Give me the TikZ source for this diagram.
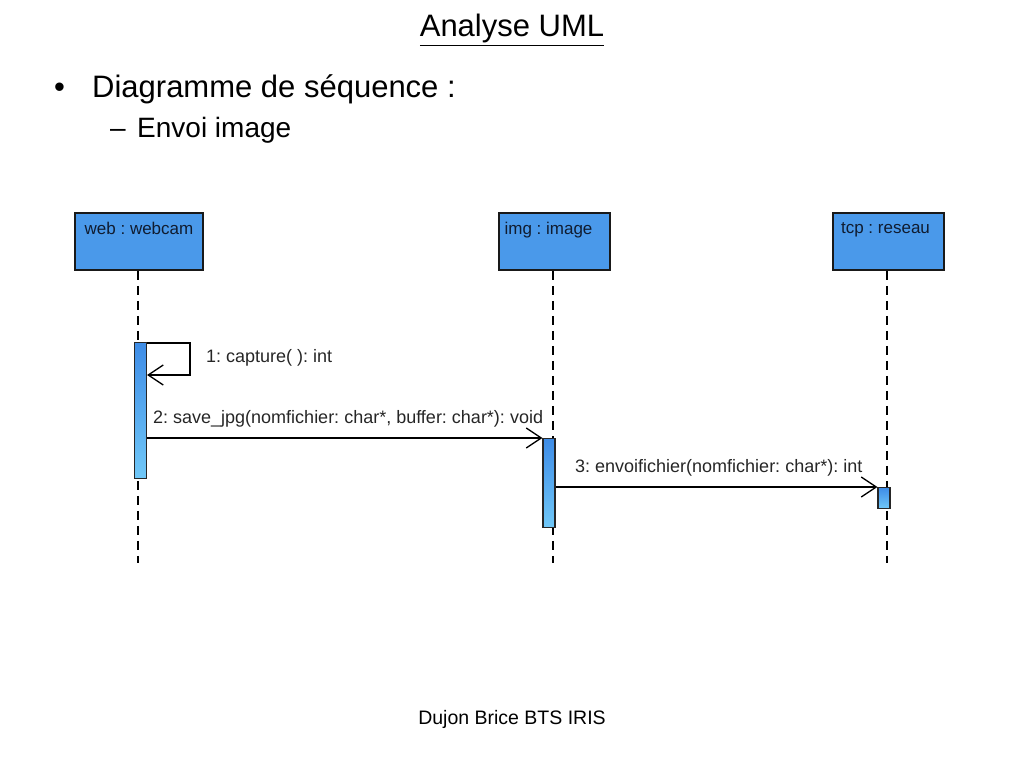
\documentclass[tikz,border=0pt]{standalone}
\usepackage{fontspec}
\setmainfont{Liberation Sans}
\usepackage{xcolor}
\usetikzlibrary{arrows.meta}
\usetikzlibrary{calc}
\frenchspacing

\definecolor{objblue}{RGB}{74,153,234}
\definecolor{acttop}{RGB}{62,140,230}
\definecolor{actbot}{RGB}{112,200,248}
\definecolor{objtext}{RGB}{16,28,48}

\tikzset{
  obj/.style={draw=black!90, line width=1.8pt, fill=objblue, minimum width=#1, minimum height=57, inner sep=0pt},
  objlabel/.style={anchor=north, text=objtext, font=\fontsize{17}{19}\selectfont, inner sep=0pt, yshift=-10},
  act/.style={draw=black!85, line width=1.2pt, top color=acttop, bottom color=actbot, minimum width=12, minimum height=#1, inner sep=0pt, anchor=north},
  lifeline/.style={dashed, dash pattern=on 9pt off 6pt, line width=1.4pt},
  msg/.style={line width=1.3pt, -{Straight Barb[length=15pt,width=20pt,line width=1.3pt]}},
  msglabel/.style={anchor=base west, font=\fontsize{18}{20}\selectfont, text=black!85, inner sep=0pt}
}

\begin{document}
\begin{tikzpicture}[x=1pt, y=-1pt]

      \useasboundingbox (0,0) rectangle (1024,768);

      \node[anchor=base, font=\fontsize{31}{34}\selectfont, inner sep=0pt] (title) at (512,37) {\underline{Analyse UML}};
      \node[anchor=base west, font=\fontsize{31}{34}\selectfont, inner sep=0pt] (bul) at (54,97) {•};
      \node[anchor=base west, font=\fontsize{31}{34}\selectfont, inner sep=0pt] (item) at (92,97) {Diagramme de séquence :};
      \node[anchor=base west, font=\fontsize{28}{32}\selectfont, inner sep=0pt] (dash) at (110,137) {–};
      \node[anchor=base west, font=\fontsize{28}{32}\selectfont, inner sep=0pt] (sub) at (137,137) {Envoi image};

      % objects
      \node[obj=128] (web) at (139,241.5) {};
      \node[obj=111] (img) at (554.5,241.5) {};
      \node[obj=111] (tcp) at (888.5,241.5) {};
      \node[objlabel] at (web.north) {web : webcam};
      \node[objlabel, xshift=-6] at (img.north) {img : image};
      \node[objlabel, xshift=-3] at (tcp.north) {tcp : reseau};

      \coordinate (webend) at (138,563);
      \coordinate (imgend) at (553,563);
      \coordinate (tcpend) at (887,563);
      \draw[lifeline] (web.south -| webend) -- (webend);
      \draw[lifeline] (img.south -| imgend) -- (imgend);
      \draw[lifeline] (tcp.south -| tcpend) -- (tcpend);

      % activations
      \node[act=136] (actweb) at (140.5,342) {};
      \node[act=89] (actimg) at (549,438) {};
      \node[act=21] (acttcp) at (884,487) {};

      \coordinate (loopa) at ($(actweb.north east)+(43,1)$);
      \coordinate (loopb) at ($(actweb.north east)+(43,33)$);
      \draw[msg] ($(actweb.north east)+(0,1)$) -- (loopa) -- (loopb) -- (loopb -| actweb.east);
      \node[msglabel] (m1) at (206,362) {1: capture( ): int};

      \draw[msg] (actweb.east |- actimg.north) -- (actimg.north west);
      \node[msglabel] (m2) at (153,423) {2: save\_jpg(nomfichier: char*, buffer: char*): void};

      \draw[msg] (actimg.east |- acttcp.north) -- (acttcp.north west);
      \node[msglabel] (m3) at (575,472) {3: envoifichier(nomfichier: char*): int};

      \node[anchor=base, font=\fontsize{19.5}{22}\selectfont, inner sep=0pt] (foot) at (512,724) {Dujon Brice BTS IRIS};
    \end{tikzpicture}
\end{document}
